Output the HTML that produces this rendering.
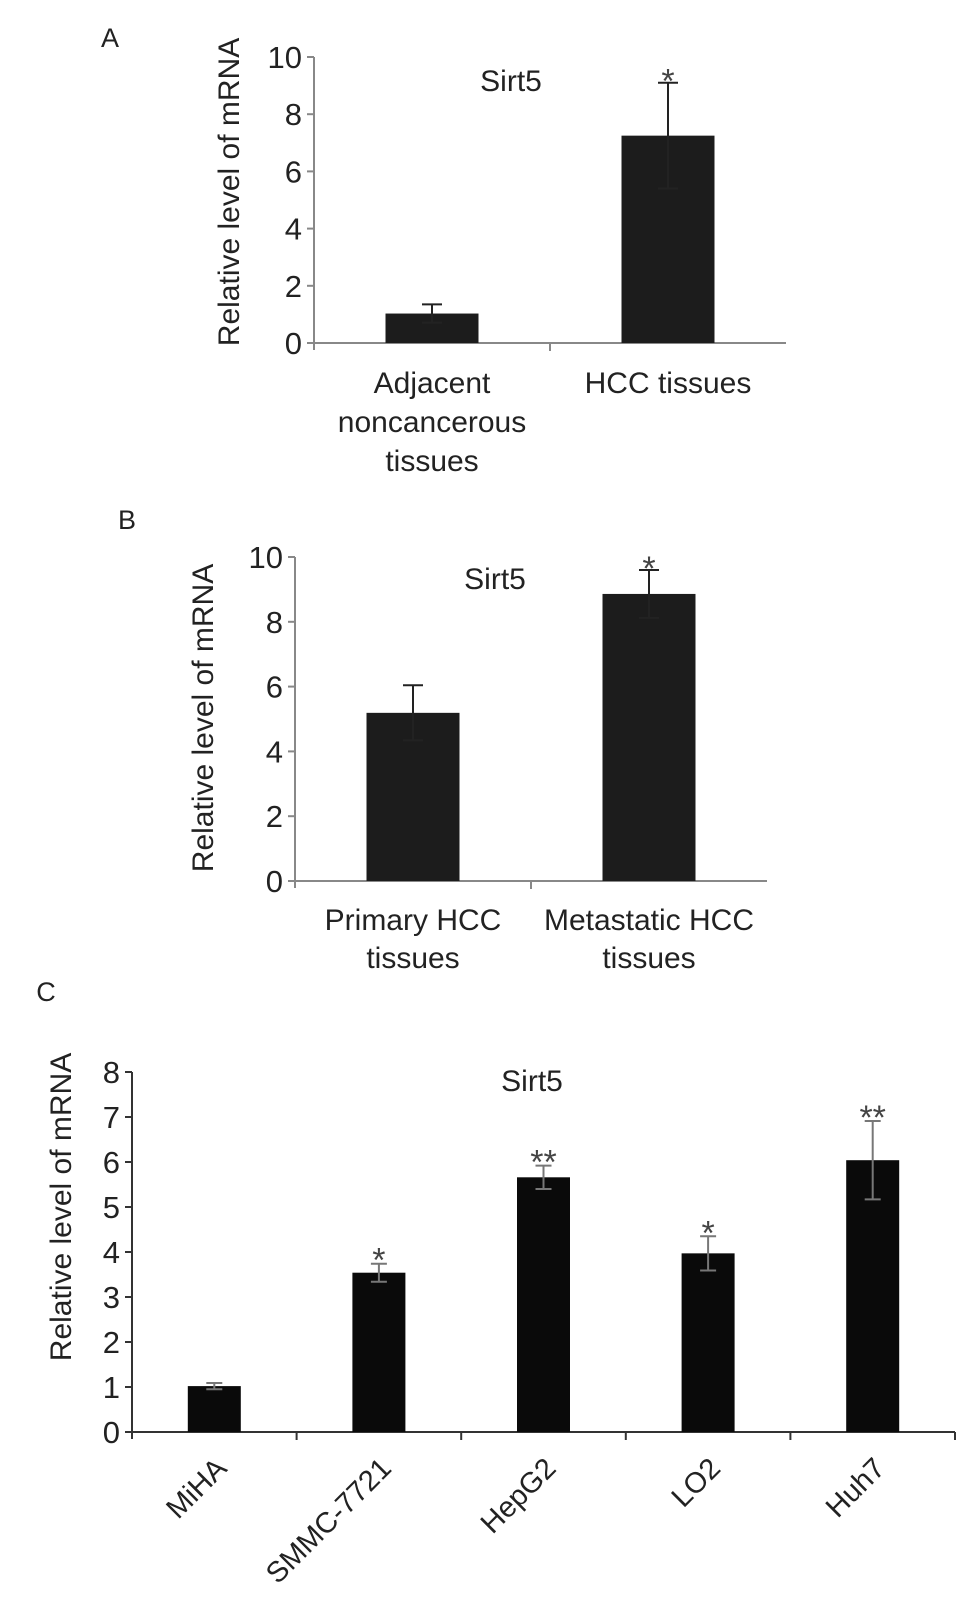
<!DOCTYPE html>
<html><head><meta charset="utf-8"><style>
html,body{margin:0;padding:0;background:#fff;}
svg{display:block;font-family:"Liberation Sans",Arial,sans-serif;}
</style></head><body>
<svg id="fig" width="969" height="1612" viewBox="0 0 969 1612"></svg>
<script>
const catsA = [["Adjacent","noncancerous","tissues"],["HCC tissues"]];
const valsA = [1.03, 7.25];
const errA = [0.32, 1.85];
const starsA = ["", "*"];
const ticksA = [0,2,4,6,8,10];

const catsB = [["Primary HCC","tissues"],["Metastatic HCC","tissues"]];
const valsB = [5.19, 8.86];
const errB = [0.85, 0.74];
const starsB = ["", "*"];
const ticksB = [0,2,4,6,8,10];

const catsC = ["MiHA","SMMC-7721","HepG2","LO2","Huh7"];
const valsC = [1.02, 3.54, 5.66, 3.97, 6.04];
const errC = [0.07, 0.2, 0.26, 0.38, 0.87];
const starsC = ["", "*", "**", "*", "**"];
const ticksC = [0,1,2,3,4,5,6,7,8];

const NS="http://www.w3.org/2000/svg";
const svg=document.getElementById('fig');
function mk(tag,attrs,parent,text){const e=document.createElementNS(NS,tag);for(const k in attrs)e.setAttribute(k,attrs[k]);if(text!==undefined)e.textContent=text;(parent||svg).appendChild(e);return e;}

function panel(cfg){
  const g=mk('g',{});
  
  
  const {x0,x1,y0,yTop,ymax,cats,vals,errs,stars,ticks,barW,axisColor,barColor}=cfg;
  const n=cats.length, step=(x1-x0)/n;
  const yS=v=>y0-(v/ymax)*(y0-yTop);
  const xC=i=>x0+step*(i+0.5);
  const ya=mk('line',{x1:x0,y1:yS(ymax),x2:x0,y2:y0+7,stroke:axisColor,'stroke-width':2},g);
  
  
  const xa=mk('line',{x1:x0-7,y1:y0,x2:x1,y2:y0,stroke:axisColor,'stroke-width':2},g);
  
  
  for(let i=1;i<=n;i++){
    if(i===n && !cfg.endTick) continue;
    mk('line',{x1:x0+step*i,y1:y0,x2:x0+step*i,y2:y0+8,stroke:axisColor,'stroke-width':2},g);
  }
  ticks.forEach(t=>{
    mk('line',{x1:x0-7,y1:yS(t),x2:x0,y2:yS(t),stroke:axisColor,'stroke-width':2},g);
    const tl=mk('text',{x:x0-12,y:yS(t)+11,'text-anchor':'end','font-size':cfg.tickFont,fill:'#222'},g,String(t));
    
    
  });
  vals.forEach((v,i)=>{
    const b=mk('rect',{x:xC(i)-barW/2,y:yS(v),width:barW,height:y0-yS(v),fill:barColor},g);
    
    
    const e=errs[i], cx=xC(i), capW=cfg.capW;
    const eb=mk('path',{d:`M${cx},${yS(v+e)}V${yS(v-e)}M${cx-capW},${yS(v+e)}H${cx+capW}M${cx-capW},${yS(v-e)}H${cx+capW}`,stroke:cfg.errColor,'stroke-width':2,fill:'none'},g);
    
    
    if(stars[i]){
      const s=mk('text',{x:cx,y:yS(v+e)-8+cfg.starDy,'text-anchor':'middle','font-size':34,fill:'#444'},g,stars[i]);
      
      
    }
  });
  return {g,xC,yS};
}

let p=panel({name:'panel-a',x0:314,x1:786,y0:343,yTop:57,ymax:10,cats:catsA,vals:valsA,errs:errA,stars:starsA,ticks:ticksA,barW:93,axisColor:'#888',barColor:'#1c1c1c',errColor:'#222',capW:10,tickFont:31,starDy:18,endTick:false});
catsA.forEach((c,i)=>c.forEach((line,j)=>{
  const t=mk('text',{x:p.xC(i),y:393+j*39,'text-anchor':'middle','font-size':30,fill:'#222'},p.g,line);
  
  
}));
let q=panel({name:'panel-b',x0:295,x1:767,y0:881,yTop:557,ymax:10,cats:catsB,vals:valsB,errs:errB,stars:starsB,ticks:ticksB,barW:93,axisColor:'#888',barColor:'#1c1c1c',errColor:'#222',capW:10,tickFont:31,starDy:18,endTick:false});
catsB.forEach((c,i)=>c.forEach((line,j)=>{
  const t=mk('text',{x:q.xC(i),y:930+j*38,'text-anchor':'middle','font-size':30,fill:'#222'},q.g,line);
  
  
}));
let r=panel({name:'panel-c',x0:132,x1:955,y0:1432,yTop:1072,ymax:8,cats:catsC,vals:valsC,errs:errC,stars:starsC,ticks:ticksC,barW:53,axisColor:'#333',barColor:'#0a0a0a',errColor:'#777',capW:8,tickFont:31,starDy:16,endTick:true});
catsC.forEach((c,i)=>{
  const x=r.xC(i)+14, y=1470;
  const t=mk('text',{x:x,y:y,'text-anchor':'end','font-size':29,fill:'#222',transform:`rotate(-45 ${x} ${y})`},r.g,c);
  
  
});

const extras=[
  ['text',{x:110,y:47,'text-anchor':'middle','font-size':27,fill:'#222'},'A','panel-label-a'],
  ['text',{x:127,y:529,'text-anchor':'middle','font-size':27,fill:'#222'},'B','panel-label-b'],
  ['text',{x:46,y:1001,'text-anchor':'middle','font-size':27,fill:'#222'},'C','panel-label-c'],
  ['text',{x:511,y:91,'text-anchor':'middle','font-size':30,fill:'#222'},'Sirt5','chart-title-a'],
  ['text',{x:495,y:589,'text-anchor':'middle','font-size':30,fill:'#222'},'Sirt5','chart-title-b'],
  ['text',{x:532,y:1091,'text-anchor':'middle','font-size':30,fill:'#222'},'Sirt5','chart-title-c'],
];
extras.forEach(([tag,a,txt,name])=>{
  const e=mk(tag,a,svg,txt);
  
  
});
[[239,192,'y-axis-title-a'],[213,718,'y-axis-title-b'],[71,1207,'y-axis-title-c']].forEach(([x,y,name])=>{
  const e=mk('text',{x:x,y:y,'text-anchor':'middle','font-size':30,fill:'#222',transform:`rotate(-90 ${x} ${y})`},svg,'Relative level of mRNA');
  
  
});
</script>
</body></html>
